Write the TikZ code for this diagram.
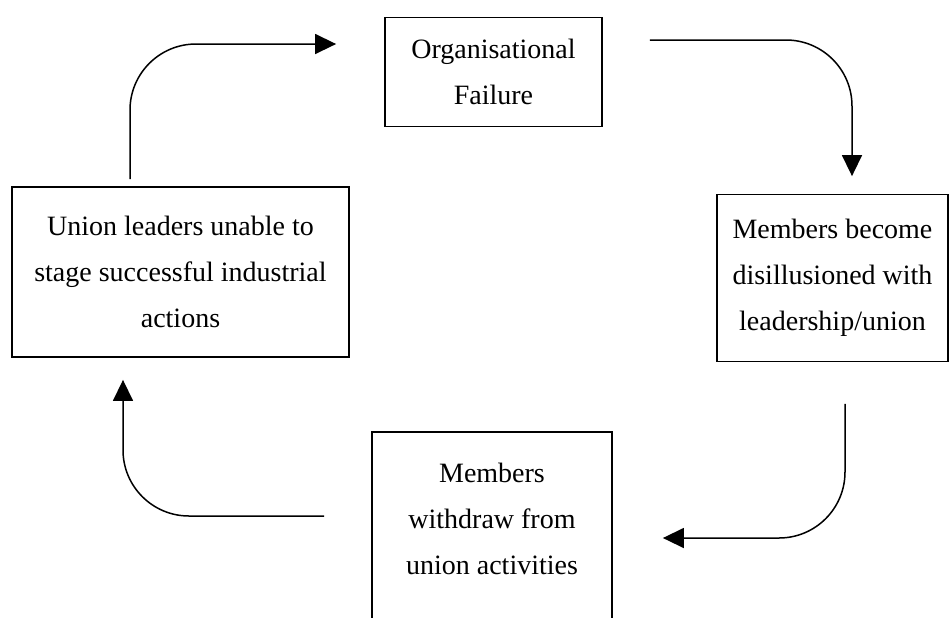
\documentclass[tikz,border=0pt]{standalone}
\usepackage{fontspec}
\setmainfont{Liberation Serif}
\usetikzlibrary{arrows.meta}

\begin{document}
\begin{tikzpicture}[x=0.5pt, y=-0.5pt,
    cyclebox/.style={draw, line width=0.9pt, align=center, inner sep=0pt,
                font=\fontsize{14pt}{23pt}\selectfont},
    cyclearrow/.style={line width=0.75pt, rounded corners=33pt,
                -{Triangle[length=10.5pt, width=10pt]}}
  ]
    \useasboundingbox (0,0) rectangle (949,617);

    \node[cyclebox, minimum width=108.5pt, minimum height=54.5pt] (fail) at (493.5, 72)
      {Organisational\\Failure};
    \node[cyclebox, minimum width=115.5pt, minimum height=83.5pt] (disil) at (832.5, 278)
      {Members become\\disillusioned with\\leadership/union};
    \node[cyclebox, minimum width=120pt, minimum height=117pt, anchor=north] (withdraw) at (492, 431)
      {Members\\withdraw from\\union activities\\ \strut};
    \node[cyclebox, minimum width=168.5pt, minimum height=85pt] (lead) at (180.5, 272)
      {Union leaders unable to\\stage successful industrial\\actions};

    \draw[cyclearrow] ([shift={(-50.5,-7)}]lead.north) |- ([shift={(-48,-28)}]fail.west);
    \draw[cyclearrow] ([shift={(47,-32)}]fail.east) -| ([shift={(19.5,-17.5)}]disil.north);
    \draw[cyclearrow] ([shift={(12.5,41.5)}]disil.south) |- ([shift={(50,107)}]withdraw.north east);
    \draw[cyclearrow] ([shift={(-47,85)}]withdraw.north west) -| ([shift={(-57.5,22)}]lead.south);
  \end{tikzpicture}
\end{document}
